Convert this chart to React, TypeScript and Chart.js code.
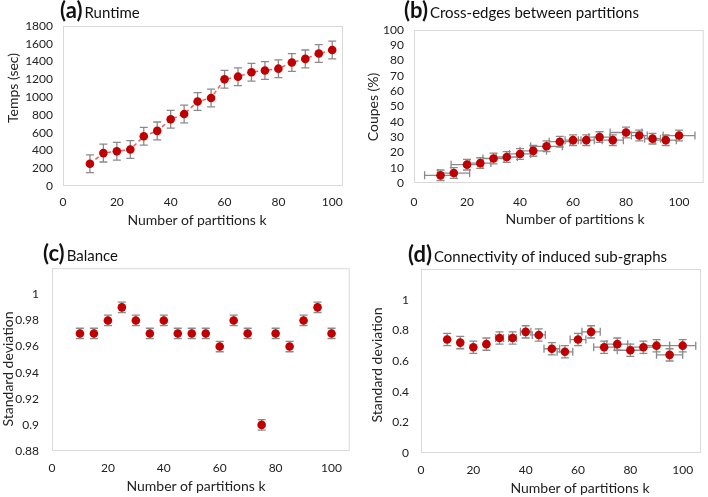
import React, { useEffect, useRef } from "react";
import { Chart, registerables } from "chart.js";

Chart.register(...registerables);

// ---------------- data ----------------
const partitionsK = [10, 15, 20, 25, 30, 35, 40, 45, 50, 55, 60, 65, 70, 75, 80, 85, 90, 95, 100];

const runtimeSec = [250, 370, 390, 410, 560, 620, 750, 810, 950, 990, 1200, 1230, 1280, 1300, 1320, 1390, 1430, 1490, 1530];
const runtimeErr = [100, 100, 100, 100, 100, 100, 100, 100, 100, 100, 100, 100, 100, 100, 100, 100, 100, 100, 100];

const crossEdgesPct = [5, 6.5, 12, 13, 16, 17, 19, 21, 24, 27, 28, 28, 30, 28, 33, 31, 29, 28, 31];
const crossEdgesYErr = [3.5, 3.5, 3.5, 3.5, 3.5, 3.5, 3.5, 3.5, 3.5, 3.5, 3.5, 3.5, 3.5, 3.5, 3.5, 3.5, 3.5, 3.5, 3.5];
const crossEdgesXErr = [6, 6, 6, 4, 4, 4, 4, 5, 6, 4, 3, 3, 4, 4, 6, 3, 3, 4, 6];

const balanceStd = [0.97, 0.97, 0.98, 0.99, 0.98, 0.97, 0.98, 0.97, 0.97, 0.97, 0.96, 0.98, 0.97, 0.9, 0.97, 0.96, 0.98, 0.99, 0.97];
const balanceErr = [0.004, 0.004, 0.004, 0.004, 0.004, 0.004, 0.004, 0.004, 0.004, 0.004, 0.004, 0.004, 0.004, 0.004, 0.004, 0.004, 0.004, 0.004, 0.004];

const connectivityStd = [0.74, 0.72, 0.69, 0.71, 0.75, 0.75, 0.79, 0.77, 0.68, 0.66, 0.74, 0.79, 0.69, 0.71, 0.67, 0.69, 0.7, 0.64, 0.7];
const connectivityYErr = [0.04, 0.04, 0.04, 0.04, 0.04, 0.04, 0.04, 0.04, 0.04, 0.04, 0.04, 0.04, 0.04, 0.04, 0.04, 0.04, 0.04, 0.04, 0.04];
const connectivityXErr = [0, 0, 0, 0, 1.5, 1.5, 2, 2.5, 3, 3, 3, 3.5, 4, 4, 5, 5, 5, 5, 5];

const xTickLabels = ["0", "20", "40", "60", "80", "100"];
const xAxisTitle = "Number of partitions k";

// ---------------- styling ----------------
const FONT = "Lato, 'Open Sans', sans-serif";
const TEXT = "#222222";
const MARKER = "#C00000";
const ERR = "#8a8a8a";
const FRAME = "#d9d9d9";

const errorBarPlugin = {
  id: "errorBars",
  beforeDatasetsDraw(chart: any, _args: any, opts: any) {
    const { ctx, chartArea, scales } = chart;
    const x = scales.x;
    const y = scales.y;
    ctx.save();
    ctx.strokeStyle = FRAME;
    ctx.lineWidth = 1;
    ctx.strokeRect(chartArea.left + 0.5, chartArea.top + 0.5, chartArea.right - chartArea.left - 1, chartArea.bottom - chartArea.top - 1);
    ctx.strokeStyle = ERR;
    ctx.lineWidth = 1.3;
    const cap = 4;
    const pts = chart.data.datasets[0].data as { x: number; y: number }[];
    pts.forEach((p, i) => {
      const px = x.getPixelForValue(p.x);
      const py = y.getPixelForValue(p.y);
      const ye = opts.yErr ? opts.yErr[i] : 0;
      const xe = opts.xErr ? opts.xErr[i] : 0;
      if (ye) {
        const t = y.getPixelForValue(p.y + ye);
        const b = y.getPixelForValue(p.y - ye);
        ctx.beginPath();
        ctx.moveTo(px, t);
        ctx.lineTo(px, b);
        ctx.moveTo(px - cap, t);
        ctx.lineTo(px + cap, t);
        ctx.moveTo(px - cap, b);
        ctx.lineTo(px + cap, b);
        ctx.stroke();
      }
      if (xe) {
        const l = x.getPixelForValue(p.x - xe);
        const r = x.getPixelForValue(p.x + xe);
        ctx.beginPath();
        ctx.moveTo(l, py);
        ctx.lineTo(r, py);
        ctx.moveTo(l, py - cap);
        ctx.lineTo(l, py + cap);
        ctx.moveTo(r, py - cap);
        ctx.lineTo(r, py + cap);
        ctx.stroke();
      }
    });
    ctx.restore();
  },
};

type PanelProps = {
  box: { left: number; top: number; width: number; height: number };
  area: { l: number; t: number; r: number; b: number };
  xMax: number;
  yMin: number;
  yMax: number;
  yStep: number;
  yLabelMax: number;
  values: number[];
  yErr: number[];
  xErr?: number[];
  line?: boolean;
  yPad: number;
  xPad: number;
};

function Panel(props: PanelProps) {
  const ref = useRef<HTMLCanvasElement | null>(null);
  useEffect(() => {
    if (!ref.current) return;
    const { box, area } = props;
    const chart = new Chart(ref.current, {
      type: "scatter",
      data: {
        datasets: [
          {
            data: partitionsK.map((k, i) => ({ x: k, y: props.values[i] })),
            showLine: !!props.line,
            borderColor: "rgba(225,70,70,0.85)",
            borderWidth: 1.5,
            borderDash: [4, 3],
            pointRadius: 4.3,
            pointBackgroundColor: MARKER,
            pointBorderColor: MARKER,
            pointBorderWidth: 0,
          },
        ],
      },
      options: {
        animation: false,
        responsive: true,
        maintainAspectRatio: false,
        layout: {
          padding: { left: 0, top: area.t - box.top, right: box.left + box.width - area.r, bottom: 0 },
        },
        plugins: {
          legend: { display: false },
          tooltip: { enabled: false },
          errorBars: { yErr: props.yErr, xErr: props.xErr },
        } as any,
        scales: {
          x: {
            type: "linear",
            min: 0,
            max: props.xMax,
            grid: { display: false, drawTicks: false },
            border: { display: false },
            afterFit: (s: any) => {
              s.height = box.top + box.height - area.b;
            },
            afterBuildTicks: (s: any) => {
              s.ticks = xTickLabels.map((t) => ({ value: Number(t) }));
            },
            ticks: {
              padding: props.xPad,
              color: TEXT,
              autoSkip: false,
              font: { family: FONT, size: 12 },
              maxRotation: 0,
              callback: (v: any) => String(v),
            },
          },
          y: {
            type: "linear",
            min: props.yMin,
            max: props.yMax,
            grid: { display: false, drawTicks: false },
            border: { display: false },
            afterFit: (s: any) => {
              s.width = area.l - box.left;
            },
            ticks: {
              stepSize: props.yStep,
              includeBounds: false,
              autoSkip: false,
              padding: props.yPad,
              color: TEXT,
              font: { family: FONT, size: 12 },
              callback: (v: any) => (Number(v) > props.yLabelMax + 1e-9 ? "" : String(+Number(v).toFixed(2))),
            },
          },
        },
      },
      plugins: [errorBarPlugin],
    } as any);
    return () => chart.destroy();
  }, []);
  const { box } = props;
  return (
    <div style={{ position: "absolute", left: box.left, top: box.top, width: box.width, height: box.height }}>
      <canvas ref={ref} />
    </div>
  );
}

function PanelTitle({ left, baseline, tag, text }: { left: number; baseline: number; tag: string; text: string }) {
  return (
    <div
      style={{
        position: "absolute",
        left,
        top: baseline - 19,
        display: "flex",
        alignItems: "baseline",
        fontFamily: FONT,
        color: "#111",
        whiteSpace: "nowrap",
        lineHeight: 1,
      }}
    >
      <span style={{ fontSize: 22, fontWeight: 700, marginRight: 2 }}>{tag}</span>
      <span style={{ fontSize: 15 }}>{text}</span>
    </div>
  );
}

function AxisTitle({ cx, cy, text, vertical }: { cx: number; cy: number; text: string; vertical?: boolean }) {
  return (
    <div
      style={{
        position: "absolute",
        left: cx,
        top: cy,
        transform: `translate(-50%, -50%)${vertical ? " rotate(-90deg)" : ""}`,
        fontFamily: FONT,
        fontSize: 14,
        color: TEXT,
        whiteSpace: "nowrap",
        lineHeight: 1,
      }}
    >
      {text}
    </div>
  );
}

export default function App() {
  return (
    <div style={{ position: "absolute", left: 0, top: 0, width: 708, height: 497, background: "#fff", overflow: "hidden" }}>
      <Panel
        box={{ left: 0, top: 0, width: 354, height: 248 }}
        area={{ l: 63, t: 26, r: 343, b: 186 }}
        xMax={104}
        yMin={0}
        yMax={1800}
        yStep={200}
        yLabelMax={1800}
        values={runtimeSec}
        yErr={runtimeErr}
        line
        yPad={10}
        xPad={9}
      />
      <Panel
        box={{ left: 354, top: 0, width: 354, height: 248 }}
        area={{ l: 414, t: 30, r: 707, b: 183 }}
        xMax={109.3}
        yMin={0}
        yMax={100}
        yStep={10}
        yLabelMax={100}
        values={crossEdgesPct}
        yErr={crossEdgesYErr}
        xErr={crossEdgesXErr}
        yPad={10}
        xPad={12}
      />
      <Panel
        box={{ left: 0, top: 248, width: 354, height: 249 }}
        area={{ l: 52, t: 267, r: 352, b: 451 }}
        xMax={106.5}
        yMin={0.88}
        yMax={1.02}
        yStep={0.02}
        yLabelMax={1}
        values={balanceStd}
        yErr={balanceErr}
        yPad={13}
        xPad={10}
      />
      <Panel
        box={{ left: 354, top: 248, width: 354, height: 249 }}
        area={{ l: 421, t: 269, r: 701, b: 453 }}
        xMax={107}
        yMin={0}
        yMax={1.2}
        yStep={0.2}
        yLabelMax={1}
        values={connectivityStd}
        yErr={connectivityYErr}
        xErr={connectivityXErr}
        yPad={12}
        xPad={10}
      />

      <PanelTitle left={60} baseline={18} tag="(a)" text="Runtime" />
      <PanelTitle left={404} baseline={18} tag="(b)" text="Cross-edges between partitions" />
      <PanelTitle left={43} baseline={261} tag="(c)" text="Balance" />
      <PanelTitle left={408} baseline={262} tag="(d)" text="Connectivity of induced sub-graphs" />

      <AxisTitle cx={197} cy={220} text={xAxisTitle} />
      <AxisTitle cx={13} cy={88} text="Temps (sec)" vertical />
      <AxisTitle cx={575} cy={219} text={xAxisTitle} />
      <AxisTitle cx={373} cy={107} text="Coupes (%)" vertical />
      <AxisTitle cx={196} cy={486} text={xAxisTitle} />
      <AxisTitle cx={8} cy={369} text="Standard deviation" vertical />
      <AxisTitle cx={580} cy={488} text={xAxisTitle} />
      <AxisTitle cx={377} cy={365} text="Standard deviation" vertical />
    </div>
  );
}
